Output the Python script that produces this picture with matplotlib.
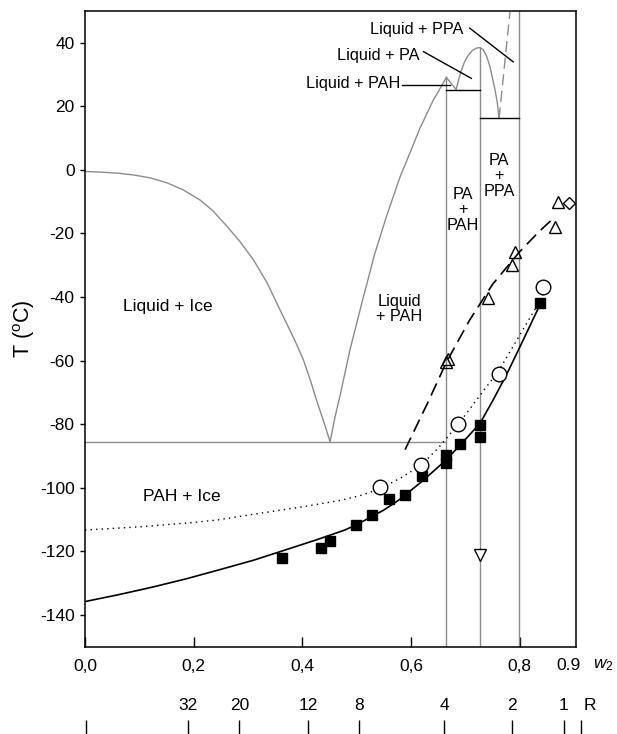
import numpy as np
import matplotlib.pyplot as plt
from matplotlib import transforms

plt.rcParams["font.family"] = ["Liberation Sans", "DejaVu Sans"]
plt.rcParams["mathtext.fontset"] = "custom"
plt.rcParams["mathtext.rm"] = "Liberation Sans"
plt.rcParams["mathtext.it"] = "Liberation Sans:italic"
plt.rcParams["axes.unicode_minus"] = False

# --- liquidus curves (grey) ---
ice_w = [0.0, 0.03, 0.06, 0.09, 0.12, 0.15, 0.18, 0.212, 0.235, 0.26, 0.285,
         0.31, 0.335, 0.365, 0.385, 0.402, 0.415, 0.426, 0.438, 0.451]
ice_T = [-0.5, -0.7, -1.0, -1.6, -2.5, -4.0, -6.2, -9.5, -12.8, -17.5, -22.5,
         -28.3, -35.5, -46.2, -53.2, -59.8, -66.3, -72.4, -78.5, -85.5]

pah_w = [0.451, 0.46, 0.47, 0.4876, 0.51, 0.533, 0.555, 0.58, 0.60, 0.616,
         0.63, 0.641, 0.653, 0.665]
pah_T = [-85.5, -77.8, -70.5, -56.6, -41.5, -26.5, -14.5, -2.1, 6.2, 13.0,
         18.0, 22.0, 25.5, 29.1]

pah2_w = [0.665, 0.674, 0.683]
pah2_T = [29.1, 27.2, 25.3]

pa_w = [0.683, 0.687, 0.692, 0.698, 0.705, 0.713, 0.72, 0.727, 0.733, 0.739,
        0.745, 0.75, 0.755, 0.759, 0.762]
pa_T = [25.3, 28.0, 31.0, 33.8, 36.0, 37.6, 38.3, 38.5, 37.8, 35.8,
        32.6, 28.8, 24.8, 20.8, 16.2]

ppa_w = [0.762, 0.782]
ppa_T = [16.2, 49.7]

eut_ice_T = -85.5
comp_w = [0.665, 0.727, 0.799]          # PAH, PA, PPA
comp_top = [29.1, 38.5, 50.0]
eut_lines = [(0.665, 0.727, 25.1), (0.727, 0.799, 16.2)]

# --- glass transition data ---
sq_w = [0.362, 0.434, 0.451, 0.499, 0.529, 0.559, 0.588, 0.621, 0.665, 0.665,
        0.690, 0.727, 0.727, 0.838]
sq_T = [-122.0, -118.8, -116.6, -111.7, -108.5, -103.6, -102.2, -96.3, -89.7,
        -92.3, -86.3, -80.2, -84.0, -42.0]
fit_w = [0.0, 0.06, 0.123, 0.185, 0.245, 0.31, 0.368, 0.429, 0.478, 0.5, 0.55,
         0.579, 0.62, 0.665, 0.702, 0.727, 0.751, 0.776, 0.80, 0.837]
fit_T = [-135.8, -133.7, -131.3, -128.7, -125.9, -122.8, -119.6, -116.2, -113.3,
         -111.6, -107.0, -103.7, -98.0, -91.2, -84.4, -79.7, -72.4, -64.3,
         -55.8, -42.5]

circ_w = [0.543, 0.618, 0.687, 0.762, 0.842]
circ_T = [-99.8, -92.8, -80.0, -64.2, -36.7]
dot_w = [0.0, 0.1, 0.2, 0.245, 0.3, 0.4, 0.472, 0.51, 0.543, 0.58, 0.618, 0.65,
         0.687, 0.72, 0.762, 0.80, 0.843]
dot_T = [-113.3, -112.3, -110.9, -110.1, -108.6, -106.0, -103.9, -102.3, -100.3,
         -97.0, -93.0, -87.5, -80.0, -72.5, -63.0, -52.0, -39.5]

tri_w = [0.664, 0.668, 0.742, 0.786, 0.792, 0.865, 0.871]
tri_T = [-60.3, -59.5, -40.4, -29.9, -25.7, -17.9, -10.0]
dash_w = [0.589, 0.63, 0.665, 0.708, 0.75, 0.80, 0.835, 0.865]
dash_T = [-88.0, -73.5, -60.5, -47.2, -36.0, -25.7, -19.5, -14.7]

dtri_w = [0.726]
dtri_T = [-121.0]
dia_w = [0.8905]
dia_T = [-10.3]

# --- axis labels ---
x_ticks = [0.0, 0.2, 0.4, 0.6, 0.8]
x_labels = ["0,0", "0,2", "0,4", "0,6", "0,8"]
y_ticks = [40, 20, 0, -20, -40, -60, -80, -100, -120, -140]
r_ticks = [0.002, 0.190, 0.284, 0.411, 0.505, 0.661, 0.786, 0.881, 0.912]
r_labels = ["", "32", "20", "12", "8", "4", "2", "1", ""]

grey = "0.55"

fig = plt.figure(figsize=(6.17, 7.34), dpi=100)
ax = fig.add_axes([85 / 617, 1 - 646.7 / 734, 490.7 / 617, 635.7 / 734])

ax.plot(ice_w, ice_T, color=grey, lw=1.0)
ax.plot(pah_w, pah_T, color=grey, lw=1.0)
ax.plot(pah2_w, pah2_T, color=grey, lw=1.0)
ax.plot(pa_w, pa_T, color=grey, lw=1.0)
ax.plot(ppa_w, ppa_T, color=grey, lw=1.0, dashes=(8, 4))
ax.plot([0, comp_w[0]], [eut_ice_T, eut_ice_T], color=grey, lw=1.0)
for w, top in zip(comp_w, comp_top):
    ax.plot([w, w], [top, -150], color=grey, lw=1.0)
for w0, w1, t in eut_lines:
    ax.plot([w0, w1], [t, t], color="black", lw=1.0)

ax.plot(fit_w, fit_T, color="black", lw=1.2)
ax.plot(dot_w, dot_T, color="black", lw=1.0, dashes=(1, 3))
ax.plot(dash_w, dash_T, color="black", lw=1.2, dashes=(8, 4))

ax.plot(sq_w, sq_T, "s", color="black", ms=7)
ax.plot(circ_w, circ_T, "o", mfc="white", mec="black", mew=1.0, ms=10.5)
ax.plot(tri_w, tri_T, "^", mfc="none", mec="black", mew=1.0, ms=8)
ax.plot(dtri_w, dtri_T, "v", mfc="white", mec="black", mew=1.0, ms=8)
ax.plot(dia_w, dia_T, "D", mfc="white", mec="black", mew=1.0, ms=6)

# region labels
ax.text(0.152, -43.0, "Liquid + Ice", ha="center", va="center", fontsize=12.5)
ax.text(0.178, -102.8, "PAH + Ice", ha="center", va="center", fontsize=12.5)
ax.text(0.578, -43.8, "Liquid\n+ PAH", ha="center", va="center", fontsize=11.7,
        linespacing=1.05)
ax.text(0.696, -12.6, "PA\n+\nPAH", ha="center", va="center", fontsize=11.7,
        linespacing=1.05)
ax.text(0.762, -1.9, "PA\n+\nPPA", ha="center", va="center", fontsize=11.7,
        linespacing=1.05)

# leader labels
ax.text(0.6955, 44.3, "Liquid + PPA", ha="right", va="center", fontsize=11.7)
ax.plot([0.708, 0.788], [44.6, 34.0], color="black", lw=1.0)
ax.text(0.6164, 36.1, "Liquid + PA", ha="right", va="center", fontsize=11.7)
ax.plot([0.623, 0.711], [37.2, 28.8], color="black", lw=1.0)
ax.text(0.5796, 27.3, "Liquid + PAH", ha="right", va="center", fontsize=11.7)
ax.plot([0.583, 0.672], [26.7, 26.7], color="black", lw=1.0)

ax.set_xlim(0, 0.903)
ax.set_ylim(-150, 50)
ax.set_xticks(x_ticks)
ax.set_xticklabels(x_labels)
ax.set_yticks(y_ticks)
ax.tick_params(axis="x", direction="in", length=7, width=1.0, pad=9, labelsize=12.5)
ax.tick_params(axis="y", direction="out", length=3.5, width=1.0, pad=4, labelsize=12.5)
for s in ax.spines.values():
    s.set_linewidth(1.1)
ax.set_ylabel("T ($^\\mathrm{o}$C)", fontsize=15.5)
ax.yaxis.set_label_coords(-0.098, 0.5)

xlab = transforms.blended_transform_factory(ax.transData, ax.transAxes)
ax.text(0.889, -0.029, "0.9", transform=xlab, ha="center", va="center", fontsize=12.5)
ax.text(0.953, -0.029, "$w_2$", transform=xlab, ha="center", va="center", fontsize=12.5)

# second scale: R
rx = transforms.blended_transform_factory(ax.transData, fig.transFigure)
ax.vlines(r_ticks, 0.0, 14 / 734, transform=rx, colors="black", lw=1.0, clip_on=False)
for w, lab in zip(r_ticks, r_labels):
    ax.text(w, 1 - 705 / 734, lab, transform=rx, ha="center", va="center", fontsize=12.5)
ax.text(0.929, 1 - 705 / 734, "R", transform=rx, ha="center", va="center", fontsize=12.5)

fig.savefig("out.png", dpi=100)
